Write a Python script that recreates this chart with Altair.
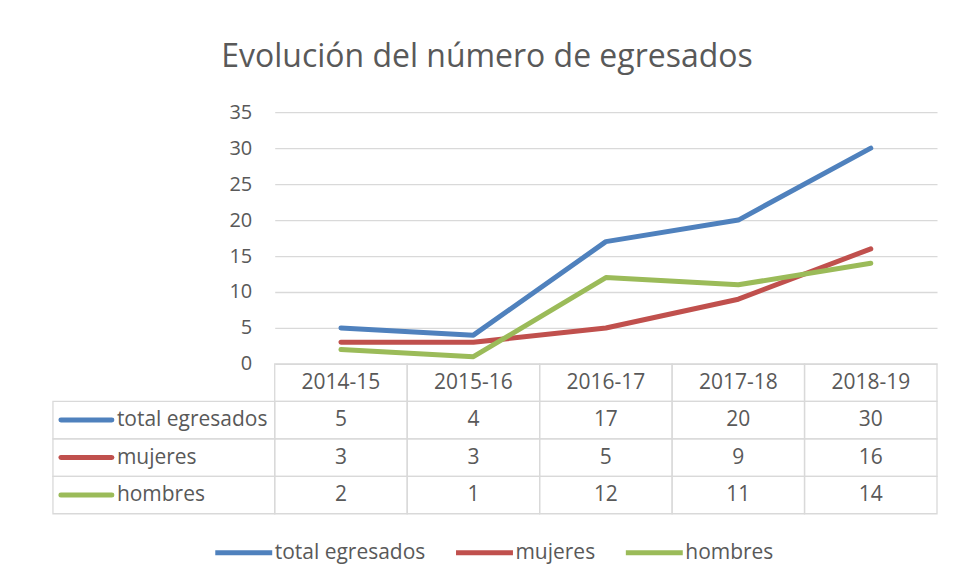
import altair as alt
import pandas as pd

years = ["2014-15", "2015-16", "2016-17", "2017-18", "2018-19"]
series_names = ["total egresados", "mujeres", "hombres"]
total_egresados = [5, 4, 17, 20, 30]
mujeres = [3, 3, 5, 9, 16]
hombres = [2, 1, 12, 11, 14]
colors = ["#4F81BD", "#C0504D", "#9BBB59"]
y_ticks = [0, 5, 10, 15, 20, 25, 30, 35]

FONT = "Open Sans"
GREY = "#595959"
GRID = "#d9d9d9"
W, H = 663, 252
TABLE_RANGE = [252, 402]

values_by_series = {
    "total egresados": total_egresados,
    "mujeres": mujeres,
    "hombres": hombres,
}

long_rows = []
for s in series_names:
    for y, v in zip(years, values_by_series[s]):
        long_rows.append({"series": s, "year": y, "value": v})
df_long = pd.DataFrame(long_rows)

rows = ["header"] + series_names

# table cell texts
cell_rows = []
for y in years:
    cell_rows.append({"row": "header", "year": y, "label": y})
for s in series_names:
    for y, v in zip(years, values_by_series[s]):
        cell_rows.append({"row": s, "year": y, "label": str(v)})
df_cells = pd.DataFrame(cell_rows)

df_labels = pd.DataFrame({"row": series_names, "label": series_names, "color": colors})

row_scale = alt.Scale(domain=rows, range=TABLE_RANGE, paddingInner=0, paddingOuter=0)
band_x = alt.Scale(type="band", domain=years, paddingInner=0, paddingOuter=0)

lines = alt.Chart(df_long).mark_line(
    strokeWidth=5, strokeCap="round", strokeJoin="round"
).encode(
    x=alt.X("year:N", sort=years, scale=alt.Scale(type="point", domain=years, padding=0.5), axis=None),
    y=alt.Y(
        "value:Q",
        scale=alt.Scale(domain=[0, 35], nice=False),
        axis=alt.Axis(
            values=y_ticks, grid=True, gridColor=GRID, gridWidth=1.3, domain=False,
            ticks=False, labelPadding=23, labelFontSize=20, labelColor=GREY,
            labelFont=FONT, title=None,
        ),
    ),
    color=alt.Color(
        "series:N",
        sort=series_names,
        scale=alt.Scale(domain=series_names, range=colors),
        legend=alt.Legend(
            orient="none", legendX=-62, legendY=410, direction="horizontal",
            title=None, symbolType="stroke", symbolSize=3249, symbolStrokeWidth=5,
            labelFontSize=21, labelColor=GREY, labelFont=FONT, columnPadding=20,
            labelOffset=0, labelLimit=400,
        ),
    ),
    order=alt.Order("series_order:Q"),
).transform_calculate(
    series_order="indexof(['total egresados','mujeres','hombres'], datum.series)"
)

cells = alt.Chart(df_cells).mark_rect(
    fill="white", fillOpacity=0, stroke=GRID, strokeWidth=1.3
).encode(
    x=alt.X("year:N", sort=years, scale=band_x, axis=None),
    y=alt.Y("row:N", sort=rows, scale=row_scale, axis=None),
)

cell_text = alt.Chart(df_cells).mark_text(
    fontSize=21, color=GREY, font=FONT, baseline="middle", align="center"
).encode(
    x=alt.X("year:N", sort=years, scale=band_x, axis=None, bandPosition=0.5),
    y=alt.Y("row:N", sort=rows, scale=row_scale, axis=None, bandPosition=0.5),
    text="label:N",
)

label_cells = alt.Chart(df_labels).mark_rect(
    fill="white", fillOpacity=0, stroke=GRID, strokeWidth=1.3
).encode(
    x=alt.value(-222),
    x2=alt.value(0),
    y=alt.Y("row:N", sort=rows, scale=row_scale, axis=None),
)

swatches = alt.Chart(df_labels).mark_rule(strokeWidth=5, strokeCap="round").encode(
    x=alt.value(-214),
    x2=alt.value(-163),
    y=alt.Y("row:N", sort=rows, scale=row_scale, axis=None, bandPosition=0.5),
    color=alt.Color("color:N", scale=None),
)

label_text = alt.Chart(df_labels).mark_text(
    fontSize=21, color=GREY, font=FONT, baseline="middle", align="left"
).encode(
    x=alt.value(-158),
    y=alt.Y("row:N", sort=rows, scale=row_scale, axis=None, bandPosition=0.5),
    text="label:N",
)

chart = alt.layer(
    lines, cells, cell_text, label_cells, swatches, label_text
).resolve_scale(
    x="independent", y="independent"
).properties(
    width=W,
    height=H,
    padding={"left": 267, "top": 104, "right": 8, "bottom": 200},
    autosize=alt.AutoSizeParams(type="none"),
    title=alt.TitleParams(
        "Evolución del número de egresados", fontSize=32, font=FONT,
        fontWeight="normal", color=GREY, anchor="middle", dx=-119,
        frame="group", offset=3, baseline="alphabetic",
    ),
).configure_view(stroke=None)

chart.save("out.html", embed_options={"renderer": "svg", "actions": False})
